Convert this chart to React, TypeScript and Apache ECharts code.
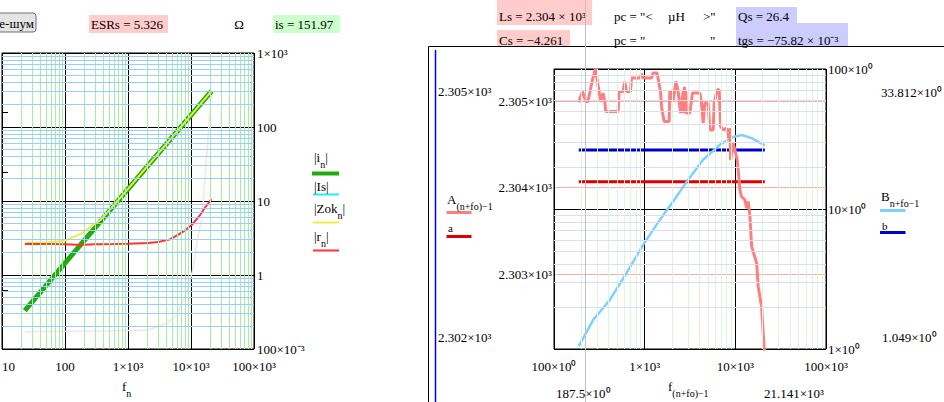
import React, { useEffect, useRef } from "react";
import * as echarts from "echarts";

const FONT = "Liberation Serif";

// ---------- left chart data ----------
const F_I = [23, 100, 1000, 10000, 21141];
const I_ABS = [0.33, 1.45, 14.5, 145, 306];
const F_ZOK = [23, 50, 100, 184, 250, 360, 500, 700, 1000, 10000, 21141];
const ZOK = [2.72, 2.75, 2.9, 3.66, 4.4, 5.5, 7.4, 10.3, 14.6, 145, 306];
const F_R = [23, 60, 100, 150, 200, 300, 600, 1000, 2100, 3000, 4660, 7550, 10250, 13900, 17000, 21141];
const R_ABS = [2.62, 2.62, 2.6, 2.57, 2.57, 2.6, 2.62, 2.64, 2.7, 2.8, 3.03, 3.85, 4.74, 6.46, 8.3, 10.6];
const F_PALE_H = [23, 21141];
const PALE_H = [2.07, 2.07];
const F_PALE = [23, 500, 2100, 2860, 4110, 5930, 7550, 9060, 10900, 12300, 13900, 14800, 16700, 18800, 21141];
const PALE = [0.171, 0.175, 0.181, 0.2, 0.222, 0.288, 0.46, 0.66, 1.29, 2.68, 4.5, 5.5, 20, 80, 300];

// ---------- right chart data ----------
const F_A = [187.5, 206, 224, 237, 265.5, 286.6, 311.6, 328, 347.6, 363, 372, 509, 522, 578, 603, 630, 697.5, 715, 883, 923, 961, 1189, 1239, 1371, 1495, 1534, 1639, 1862, 1895, 1978, 2061, 2208, 2340, 2487, 2656, 2700, 2745, 2790, 2840, 2880, 3150, 3373, 4062, 4240, 4417, 4612, 5014, 5237, 5698, 5843, 6305, 6636, 6875, 7345, 8010, 8340, 8710, 8870, 9470, 9890, 10480, 10760, 11230, 11720, 12750, 13310, 13870, 14480, 15130, 17170, 17900, 19500, 20840, 21141];
const A_VAL = [2304.99, 2305.116, 2305.0, 2305.0, 2305.252, 2305.38, 2305.136, 2305.0, 2305.097, 2305.0, 2304.884, 2304.884, 2305.116, 2305.116, 2305.232, 2305.116, 2305.116, 2305.271, 2305.271, 2305.321, 2305.271, 2305.271, 2305.329, 2305.329, 2305.116, 2304.942, 2304.768, 2304.768, 2305.116, 2305.116, 2305.0, 2305.232, 2305.116, 2304.865, 2305.116, 2304.865, 2305.17, 2304.865, 2305.12, 2304.865, 2304.865, 2305.097, 2305.097, 2304.98, 2304.75, 2304.98, 2304.98, 2304.67, 2304.67, 2304.98, 2305.136, 2305.136, 2304.71, 2304.67, 2304.69, 2304.575, 2304.69, 2304.32, 2304.517, 2304.44, 2304.32, 2304.21, 2303.976, 2303.898, 2303.86, 2303.763, 2303.84, 2303.666, 2303.32, 2303.13, 2302.85, 2302.62, 2302.12, 2301.9];
const F_B = [187.5, 270, 412, 630, 961, 1469, 2061, 3018, 4417, 6757, 9466, 11720, 15130, 21141];
const B_VAL = [1.049, 1.61, 2.24, 3.48, 5.54, 8.36, 11.3, 16.2, 22.5, 28.8, 32.7, 33.8, 32.1, 28.5];
const F_AB = [187.5, 21141];
const A_CONST = [2304.07, 2304.07];
const B_CONST = [26.4, 26.4];

// tick labels
const LEFT_X_LABELS: Record<number, string> = { 1: "10", 2: "100", 3: "1×10³", 4: "10×10³", 5: "100×10³" };
const LEFT_Y_LABELS: Record<number, string> = { [-1]: "100×10⁻³", 0: "1", 1: "10", 2: "100", 3: "1×10³" };
const RIGHT_X_LABELS: Record<number, string> = { 2: "100×10⁰", 3: "1×10³", 4: "10×10³", 5: "100×10³" };
const RIGHT_Y_LABELS: Record<number, string> = { 0: "1×10⁰", 1: "10×10⁰", 2: "100×10⁰" };

const zip = (xs: number[], ys: number[]) => xs.map((x, i) => [x, ys[i]]);
const minorOf = (decades: number[]) => {
  const out: number[] = [];
  decades.forEach((d) => {
    for (let k = 2; k <= 9; k++) out.push(k * d);
  });
  return out;
};
const dec = (v: number) => Math.round(Math.log10(v));

const T = (x: number, y: number, text: string, o: any = {}) => ({
  type: "text",
  x,
  y,
  z: 50,
  silent: true,
  style: {
    text,
    fontFamily: FONT,
    fontSize: o.size ?? 13,
    fill: o.color ?? "#000",
    align: o.align ?? "left",
    verticalAlign: "middle",
  },
});
const RT = (x: number, y: number, parts: [string, string][], size = 13) => ({
  type: "text",
  x,
  y,
  z: 50,
  silent: true,
  style: {
    text: parts.map(([s, k]) => `{${k}|${s}}`).join(""),
    fontFamily: FONT,
    fontSize: size,
    fill: "#000",
    align: "left",
    verticalAlign: "middle",
    rich: {
      b: { fontFamily: FONT, fontSize: size, lineHeight: 14, verticalAlign: "top", fill: "#000" },
      s: { fontFamily: FONT, fontSize: size - 3, lineHeight: 19, verticalAlign: "bottom", fill: "#000" },
    },
  },
});
const L = (x1: number, y1: number, x2: number, y2: number, stroke: string, w = 1, z = 40) => ({
  type: "line",
  z,
  silent: true,
  shape: { x1, y1, x2, y2 },
  style: { stroke, lineWidth: w },
});
const R = (x: number, y: number, w: number, h: number, fill: string, extra: any = {}) => ({
  type: "rect",
  z: 30,
  silent: true,
  shape: { x, y, width: w, height: h, r: extra.r ?? 0 },
  style: { fill, stroke: extra.stroke ?? null, lineWidth: extra.stroke ? 1 : 0 },
});

const lineSeries = (name: string, xi: number, yi: number, data: number[][], color: string, width: number, z = 3) => ({
  name,
  type: "line",
  xAxisIndex: xi,
  yAxisIndex: yi,
  data,
  symbol: "none",
  showSymbol: false,
  silent: true,
  z,
  lineStyle: { color, width },
  itemStyle: { color },
});

const gridMarks = (xi: number, yi: number, xs: number[], xColor: string, ys: number[], yColor: string) => ({
  type: "line",
  xAxisIndex: xi,
  yAxisIndex: yi,
  data: [],
  silent: true,
  z: 1,
  markLine: {
    silent: true,
    symbol: ["none", "none"],
    label: { show: false },
    emphasis: { disabled: true },
    animation: false,
    data: [
      ...xs.map((v) => ({ xAxis: v, lineStyle: { color: xColor, width: 1, type: "solid" } })),
      ...ys.map((v) => ({ yAxis: v, lineStyle: { color: yColor, width: 1, type: "solid" } })),
    ],
  },
});

const axisLbl = { fontFamily: FONT, fontSize: 13, color: "#000" };

export default function App() {
  const ref = useRef<HTMLDivElement>(null);
  useEffect(() => {
    const chart = echarts.init(ref.current!, null, { renderer: "svg" });
    const option: any = {
      animation: false,
      backgroundColor: "#fff",
      grid: [
        { left: 2, top: 53, width: 252, height: 296, show: true, borderColor: "#000", borderWidth: 1, backgroundColor: "transparent", containLabel: false, outerBoundsMode: "none" },
        { left: 554, top: 69, width: 272, height: 280, show: true, borderColor: "#000", borderWidth: 1, backgroundColor: "transparent", containLabel: false, outerBoundsMode: "none" },
      ],
      xAxis: [
        {
          gridIndex: 0, type: "log", logBase: 10, min: 10, max: 100000,
          axisLine: { show: false }, axisTick: { show: false },
          axisLabel: { ...axisLbl, margin: 11, alignMinLabel: "left", formatter: (v: number) => LEFT_X_LABELS[dec(v)] ?? "" },
          splitLine: { show: true, lineStyle: { color: "#000", width: 1 } },
        },
        {
          gridIndex: 1, type: "log", logBase: 10, min: 100, max: 100000,
          axisLine: { show: false }, axisTick: { show: false },
          axisLabel: { ...axisLbl, margin: 11, formatter: (v: number) => RIGHT_X_LABELS[dec(v)] ?? "" },
          splitLine: { show: true, lineStyle: { color: "#000", width: 1 } },
        },
      ],
      yAxis: [
        {
          gridIndex: 0, type: "log", logBase: 10, min: 0.1, max: 1000, position: "right",
          axisLine: { show: false }, axisTick: { show: false },
          axisLabel: { ...axisLbl, margin: 3, formatter: (v: number) => LEFT_Y_LABELS[dec(v)] ?? "" },
          splitLine: { show: true, lineStyle: { color: "#000", width: 1 } },
        },
        {
          gridIndex: 1, type: "value", min: 2302.131, max: 2305.376, splitNumber: 3, position: "left",
          axisLine: { show: false }, axisTick: { show: false },
          axisLabel: {
            ...axisLbl, margin: 2,
            formatter: (v: number) => (Math.abs(v - Math.round(v)) < 1e-6 ? (v / 1000).toFixed(3) + "×10³" : ""),
          },
          splitLine: { show: true, lineStyle: { color: "#ffaaaa", width: 1 } },
        },
        {
          gridIndex: 1, type: "log", logBase: 10, min: 1, max: 100, position: "right",
          axisLine: { show: false }, axisTick: { show: false },
          axisLabel: { ...axisLbl, margin: 2, formatter: (v: number) => RIGHT_Y_LABELS[dec(v)] ?? "" },
          splitLine: { show: true, lineStyle: { color: "#000", width: 1 } },
        },
      ],
      series: [
        gridMarks(0, 0, minorOf([10, 100, 1000, 10000]), "#a6eea6", minorOf([0.1, 1, 10, 100]), "#99ccff"),
        lineSeries("pale-h", 0, 0, zip(F_PALE_H, PALE_H), "#eeeaf2", 1.5),
        lineSeries("pale", 0, 0, zip(F_PALE, PALE), "#f3e4ee", 1.5),
        lineSeries("|i_n|", 0, 0, zip(F_I, I_ABS), "#22aa11", 5),
        lineSeries("|Zok_n|", 0, 0, zip(F_ZOK, ZOK), "#eeee44", 2),
        lineSeries("|r_n|", 0, 0, zip(F_R, R_ABS), "#ff3333", 2),
        gridMarks(1, 2, minorOf([100, 1000, 10000]), "#dcf6dc", minorOf([1, 10]), "#dcdcf8"),
        lineSeries("a", 1, 1, zip(F_AB, A_CONST), "#dd0000", 3),
        lineSeries("b", 1, 2, zip(F_AB, B_CONST), "#0000cc", 3),
        lineSeries("B", 1, 2, zip(F_B, B_VAL), "#7fcfff", 2.5),
        lineSeries("A", 1, 1, zip(F_A, A_VAL), "#ff7f7f", 3, 4),
      ],
      graphic: {
        elements: [
          // header left
          R(-4, 13, 40, 19, "#e4e4e4", { stroke: "#707070", r: 3 }),
          T(34, 23, "е-шум", { align: "right" }),
          R(89, 15, 79, 18, "#ffcccc"),
          T(91, 24, "ESRs = 5.326"),
          T(239, 24, "Ω", { align: "center" }),
          R(273, 15, 67, 18, "#ccffcc"),
          T(275, 24, "is = 151.97"),
          // left tick stubs
          L(3, 112.5, 8, 112.5, "#000"),
          L(3, 172.5, 8, 172.5, "#000"),
          L(3, 290.5, 8, 290.5, "#000"),
          // left legend
          RT(314, 160, [["|i", "b"], ["n", "s"], ["|", "b"]]),
          L(312, 173.5, 339, 173.5, "#22aa11", 4),
          T(314, 186, "|Is|"),
          L(313, 194.5, 339, 194.5, "#22eeee", 2),
          RT(314, 211, [["|Zok", "b"], ["n", "s"], ["|", "b"]]),
          L(313, 222.5, 339, 222.5, "#eeee44", 2),
          RT(314, 239, [["|r", "b"], ["n", "s"], ["|", "b"]]),
          L(313, 250.5, 339, 250.5, "#ff3333", 2),
          RT(122, 389, [["f", "b"], ["n", "s"]]),
          // right header
          R(497, 0, 95, 25, "#ffcccc"),
          T(499, 16, "Ls = 2.304 × 10³"),
          R(497, 30, 73, 16, "#ffcccc"),
          T(499, 40, "Cs = −4.261"),
          T(614, 16, 'pc = "<'),
          T(668, 16, "µH"),
          T(703, 16, '>"'),
          T(614, 40, 'pc = "'),
          T(710, 40, '"'),
          R(736, 7, 61, 16, "#ccccff"),
          T(738, 16, "Qs = 26.4"),
          R(736, 23, 112, 23, "#ccccff"),
          T(738, 40, "tgs = −75.82 × 10⁻³"),
          // right frame
          L(428.5, 46.5, 944, 46.5, "#000", 1),
          L(428.5, 46.5, 428.5, 402, "#000", 1),
          L(435.5, 50, 435.5, 402, "#0000dd", 1.5),
          // limit labels
          T(438, 91, "2.305×10³"),
          T(438, 337, "2.302×10³"),
          T(881, 92, "33.812×10⁰"),
          T(882, 337, "1.049×10⁰"),
          T(556, 393, "187.5×10⁰"),
          T(764, 393, "21.141×10³"),
          RT(668, 389, [["f", "b"], ["(n+fo)−1", "s"]]),
          // right legends
          RT(447, 202, [["A", "b"], ["(n+fo)−1", "s"]]),
          L(446.5, 212.5, 471.5, 212.5, "#ff7f7f", 3),
          T(448, 228, "a", { size: 11 }),
          L(446.5, 236.5, 471.5, 236.5, "#dd0000", 3),
          RT(881, 199, [["B", "b"], ["n+fo−1", "s"]]),
          L(880, 210.5, 905.5, 210.5, "#7fcfff", 3),
          T(882, 226, "b", { size: 11 }),
          L(880, 232.5, 905.5, 232.5, "#0000cc", 3),
          // cursor line
          L(585.5, 0, 585.5, 402, "#c0c0c0", 1, 100),
        ],
      },
    };
    chart.setOption(option);
    return () => chart.dispose();
  }, []);
  return (
    <div
      ref={ref}
      style={{ position: "fixed", left: 0, top: 0, width: 944, height: 402, background: "#fff" }}
    />
  );
}
